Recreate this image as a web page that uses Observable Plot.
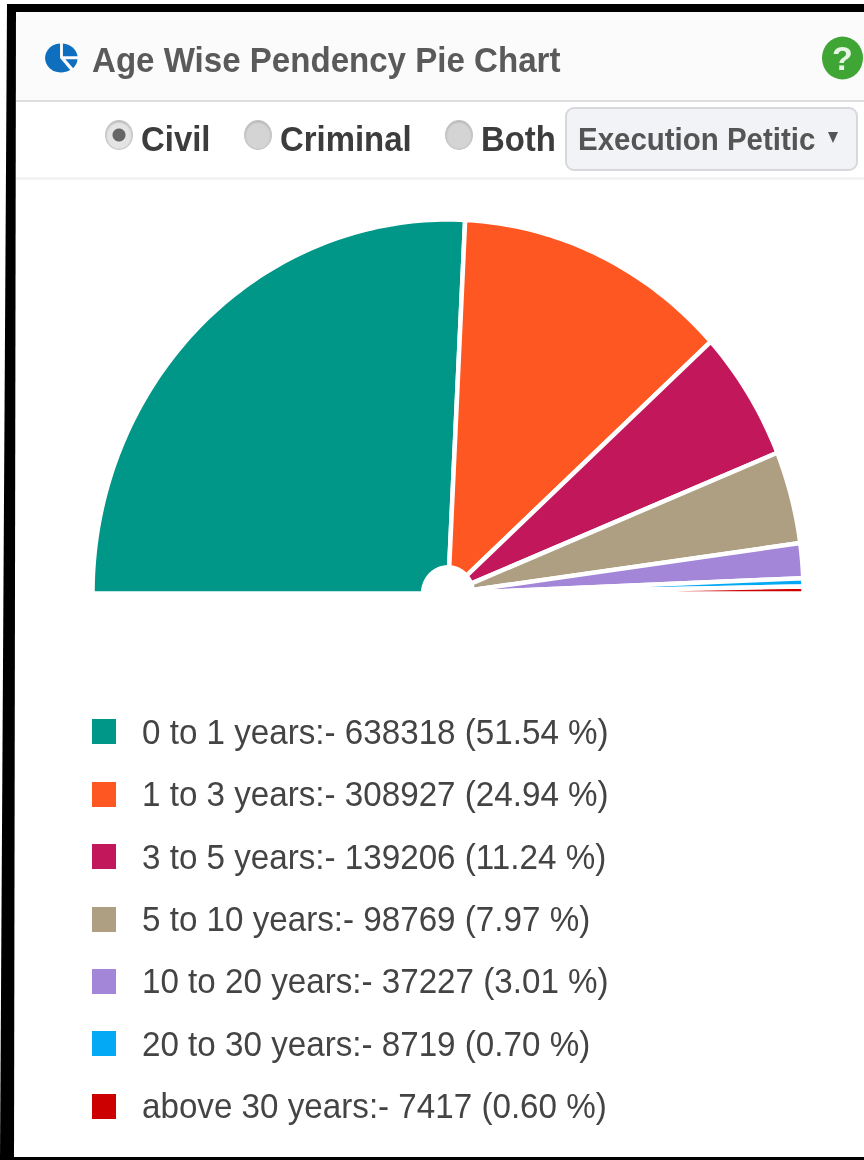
<!DOCTYPE html>
<html><head><meta charset="utf-8">
<script src="https://cdn.jsdelivr.net/npm/d3@7"></script>
<script src="https://cdn.jsdelivr.net/npm/@observablehq/plot@0.6"></script>
<style>
html,body{margin:0;padding:0;background:#fff;}
#page{position:relative;width:864px;height:1160px;overflow:hidden;font-family:"Liberation Sans",Arial,sans-serif;background:#fff;filter:blur(0.4px);}
#page>*{position:absolute;}
.frameT{left:7px;right:0;top:4px;height:8px;background:#000;}
.frameL{left:0;width:16px;top:4px;bottom:0;background:#000;clip-path:polygon(7px 0,16px 0,14px 100%,0 100%);}
.frameB{left:0;right:0;bottom:0;height:3px;background:#000;}
.head{left:16px;right:0;top:12px;height:88px;background:#fbfbfb;border-bottom:2px solid #ddd;border-top-left-radius:8px;}
.rule2{left:16px;right:0;top:177px;height:3px;background:#f3f3f3;}
.title{left:92px;top:41px;font-size:35px;font-weight:bold;color:#5a5a5a;white-space:nowrap;line-height:38px;transform-origin:0 0;transform:scaleX(0.945);}
.opt{top:120px;font-size:35px;font-weight:bold;color:#3c3c3c;line-height:38px;white-space:nowrap;transform-origin:0 0;transform:scaleX(0.94);}
.radio{width:28px;height:30px;border-radius:50%;top:120px;background:#d4d4d4;border:1px solid #c4c4c4;box-sizing:border-box;box-shadow:inset 0 1px 2px #aaa;}
.radio.on{background:radial-gradient(circle,#666 0 6px,#e4e4e4 7px);}
.select{left:565px;top:107px;width:293px;height:64px;box-sizing:border-box;border:2px solid #d6d8dc;border-radius:9px;background:#f1f3f6;}
.selTxt{left:578px;top:122px;font-size:31px;font-weight:bold;color:#555;white-space:nowrap;line-height:36px;transform-origin:0 0;transform:scaleX(0.95);}
.caret{left:828px;top:132px;width:0;height:0;border-left:5.5px solid transparent;border-right:5.5px solid transparent;border-top:11px solid #555;}
#chart{left:0;top:180px;}
.lg{left:0;top:0;}
.swatch{width:24px;height:25px;left:92px;}
.ltext{left:142px;font-size:35px;color:#444;white-space:nowrap;line-height:38px;transform-origin:0 0;transform:scaleX(0.948);}
</style></head><body>
<div id="page">
  <div class="head"></div>
  <div class="rule2"></div>
  <div class="frameT"></div><div class="frameL"></div><div class="frameB"></div>
  <svg style="left:45px;top:43px" width="33" height="30" viewBox="-17 -17 34 34" preserveAspectRatio="none">
    <path d="M-1.5,-16.5 A16.5,16.5 0 1,0 9,13.5 L-1.5,0 Z" fill="#0f6fbf"/>
    <path d="M1.5,-16.5 A16.5,16.5 0 0,1 16.5,-2 L1.5,-2 Z" fill="#0f6fbf"/>
    <path d="M4,1.5 L16.5,1.5 A16.5,16.5 0 0,1 12,11.5 Z" fill="#0f6fbf"/>
  </svg>
  <div class="title">Age Wise Pendency Pie Chart</div>
  <svg style="left:822px;top:36px" width="42" height="44" viewBox="0 0 42 44">
    <ellipse cx="20.5" cy="22" rx="20.5" ry="21.5" fill="#3fa535"/>
    <text x="20.5" y="34" text-anchor="middle" font-family="Liberation Sans" font-weight="bold" font-size="34" fill="#e6f5e4">?</text>
  </svg>
  <div class="radio on" style="left:105px"></div>
  <div class="opt" style="left:141px">Civil</div>
  <div class="radio" style="left:244px"></div>
  <div class="opt" style="left:280px">Criminal</div>
  <div class="radio" style="left:445px"></div>
  <div class="opt" style="left:481px">Both</div>
  <div class="select"></div>
  <div class="selTxt">Execution Petitic</div>
  <div class="caret"></div>
  <div id="chart"></div>
  <div class="lg" id="legend"></div>
</div>
<script>
const categories = ["0 to 1 years","1 to 3 years","3 to 5 years","5 to 10 years","10 to 20 years","20 to 30 years","above 30 years"];
const counts = [638318,308927,139206,98769,37227,8719,7417];
const percents = ["51.54","24.94","11.24","7.97","3.01","0.70","0.60"];
const colors = ["#009688","#FF5722","#C2185B","#AE9F82","#A386D8","#03A9F4","#CC0000"];

const total = d3.sum(counts);
const inner = 0.07;
let acc = 0;
const wedges = [];
counts.forEach((v,i)=>{
  const a0 = Math.PI*(1-acc/total), a1 = Math.PI*(1-(acc+v)/total);
  const n = Math.max(2,Math.ceil(Math.abs(a1-a0)*60));
  const pts = [];
  for(let k=0;k<=n;k++){const a=a0+(a1-a0)*k/n;pts.push({label:categories[i],x:Math.cos(a),y:Math.sin(a)});}
  for(let k=n;k>=0;k--){const a=a0+(a1-a0)*k/n;pts.push({label:categories[i],x:inner*Math.cos(a),y:inner*Math.sin(a)});}
  pts.push(pts[0]);
  wedges.push(...pts);
  acc += v;
});

const plot = Plot.plot({
  width:864,height:440,margin:0,
  x:{domain:[-1,1],range:[92,803],axis:null},
  y:{domain:[0,1],range:[413,39],axis:null},
  color:{domain:categories,range:colors},
  style:{background:"transparent"},
  marks:[
    Plot.line(wedges,{x:"x",y:"y",z:"label",fill:"label",stroke:"white",strokeWidth:4.5})
  ]
});
document.getElementById("chart").appendChild(plot);

const lg = document.getElementById("legend");
const rowY = [731.5,794,856.5,919,981,1043.5,1106];
categories.forEach((c,i)=>{
  const s=document.createElement("div");s.className="swatch";s.style.position="absolute";
  s.style.top=(rowY[i]-12.5)+"px";s.style.background=colors[i];lg.appendChild(s);
  const t=document.createElement("div");t.className="ltext";t.style.position="absolute";
  t.style.top=(rowY[i]-19)+"px";t.textContent=`${c}:- ${counts[i]} (${percents[i]} %)`;lg.appendChild(t);
});
</script>
</body></html>
